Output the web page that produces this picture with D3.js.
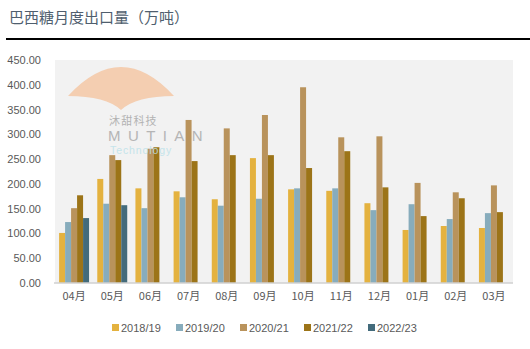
<!DOCTYPE html>
<html>
<head>
<meta charset="utf-8">
<script src="https://cdn.jsdelivr.net/npm/d3@7/dist/d3.min.js"></script>
<style>
  html, body { margin: 0; padding: 0; background: #fff; }
  svg { display: block; font-family: "Liberation Sans", "Noto Sans CJK SC", sans-serif; }
</style>
</head>
<body>
<svg id="chart" width="530" height="349"></svg>
<script>
// Monthly sugar exports from Brazil, by crop season (10k tonnes)
const months = ["04月", "05月", "06月", "07月", "08月", "09月", "10月", "11月", "12月", "01月", "02月", "03月"];
const seasons = ["2018/19", "2019/20", "2020/21", "2021/22", "2022/23"];
const s2018 = [101, 210, 191, 185, 169, 252, 189, 186, 161, 107, 115, 111];
const s2019 = [123, 160, 151, 173, 156, 170, 191, 191, 147, 159, 129, 141];
const s2020 = [151, 258, 271, 329, 312, 339, 395, 294, 296, 202, 183, 197];
const s2021 = [177, 248, 274, 246, 258, 258, 232, 266, 193, 135, 171, 143];
const s2022 = [131, 157, null, null, null, null, null, null, null, null, null, null];
const seriesValues = [s2018, s2019, s2020, s2021, s2022];
const colors = ["#E4B23F", "#87ACBC", "#B9935C", "#9C7418", "#436B7B"];
const yTicks = [0, 50, 100, 150, 200, 250, 300, 350, 400, 450];

const svg = d3.select("#chart");
const plot = { left: 55, right: 513, top: 60, bottom: 283 };

// Title and rule underneath
svg.append("text")
  .attr("x", 9).attr("y", 23)
  .attr("font-family", "'Noto Sans CJK SC', sans-serif")
  .attr("font-size", 15)
  .attr("fill", "#4F5E6E")
  .text("巴西糖月度出口量（万吨）");
svg.append("rect")
  .attr("x", 6).attr("y", 38).attr("width", 524).attr("height", 2)
  .attr("fill", "#000");

// Plot background
svg.append("rect")
  .attr("x", plot.left).attr("y", plot.top)
  .attr("width", plot.right - plot.left).attr("height", plot.bottom - plot.top)
  .attr("fill", "#F2F2F2");

const x0 = d3.scaleBand().domain(months).range([plot.left, plot.right]).paddingInner(0.215).paddingOuter(0.1075);
const x1 = d3.scaleBand().domain(seasons).range([0, x0.bandwidth()]);
const y = d3.scaleLinear().domain([0, 450]).range([plot.bottom, plot.top]);

// Y axis (labels only)
const yAxis = svg.append("g")
  .attr("transform", `translate(${plot.left - 12},0)`)
  .call(d3.axisLeft(y).tickValues(yTicks).tickFormat(d3.format(".2f")).tickSize(0).tickPadding(2));
yAxis.select(".domain").remove();
yAxis.selectAll("text").attr("font-size", 11).attr("fill", "#595959");

// Bars
seriesValues.forEach((vals, si) => {
  svg.append("g").selectAll("rect")
    .data(months.map((m, i) => ({ m, v: vals[i] })).filter(d => d.v != null))
    .join("rect")
    .attr("x", d => x0(d.m) + x1(seasons[si]))
    .attr("y", d => y(d.v))
    .attr("width", x1.bandwidth())
    .attr("height", d => y(0) - y(d.v))
    .attr("fill", colors[si]);
});

// X axis
const xAxis = svg.append("g")
  .attr("transform", `translate(0,${plot.bottom})`)
  .call(d3.axisBottom(x0).tickSize(0).tickPadding(9));
xAxis.select(".domain").attr("stroke", "#D0D0D0").attr("stroke-width", 1.5)
  .attr("d", `M${plot.left - 1},0H${plot.right}`);
xAxis.selectAll("text").attr("font-size", 11).attr("fill", "#595959")
  .attr("font-family", "'Noto Sans CJK SC', sans-serif");

// Watermark logo
const logo = svg.append("g").attr("opacity", 0.85);
logo.append("path")
  .attr("d", "M68,96 Q121,38 174,96 Q136,96 121,110 Q106,96 68,96 Z")
  .attr("fill", "#F5C8A6");
logo.append("text")
  .attr("x", 109).attr("y", 124.5)
  .attr("font-family", "'Noto Sans CJK SC', sans-serif")
  .attr("font-size", 11).attr("letter-spacing", 1.2).attr("fill", "#A8A8A8")
  .text("沐甜科技");
logo.append("text")
  .attr("x", 108).attr("y", 141)
  .attr("font-family", "'Liberation Sans', sans-serif")
  .attr("font-size", 15).attr("letter-spacing", 7.4).attr("fill", "#ABABAB")
  .text("MUTIAN");
logo.append("text")
  .attr("x", 110).attr("y", 154)
  .attr("font-family", "'Liberation Sans', sans-serif")
  .attr("font-size", 10.5).attr("letter-spacing", 0.9).attr("fill", "#BDE2EA")
  .text("Technology");

// Legend
const legend = svg.append("g").attr("transform", "translate(112,324)");
seasons.forEach((s, i) => {
  const g = legend.append("g").attr("transform", `translate(${i * 64},0)`);
  g.append("rect").attr("width", 7).attr("height", 7).attr("y", 0).attr("fill", colors[i]);
  g.append("text").attr("x", 9).attr("y", 7.5)
    .attr("font-size", 11).attr("fill", "#595959").text(s);
});
</script>
</body>
</html>
